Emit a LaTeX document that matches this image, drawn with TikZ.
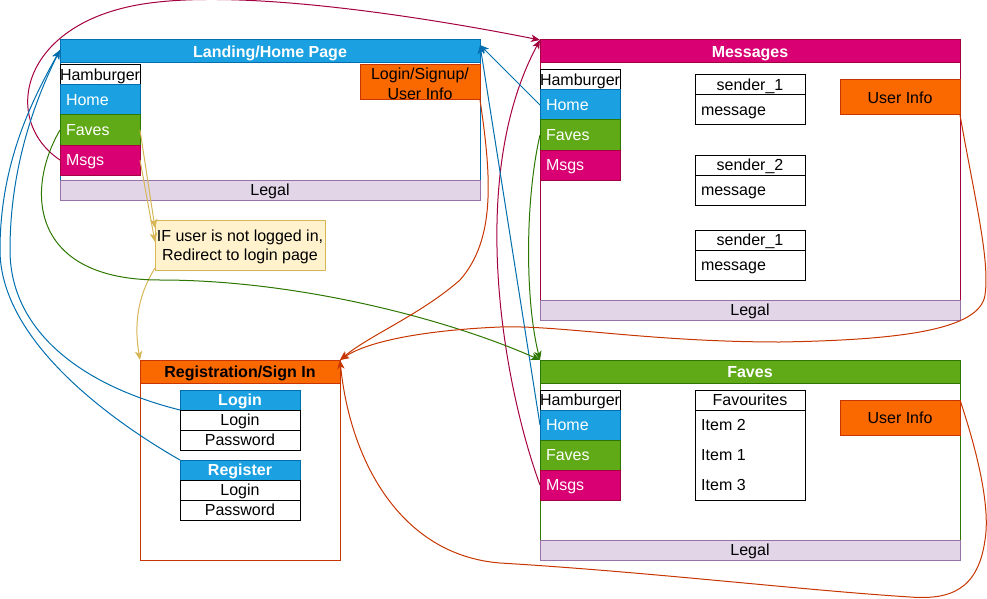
\documentclass[tikz,border=0pt]{standalone}
\usepackage{fontspec}
\setmainfont{Liberation Sans}
\usetikzlibrary{arrows.meta}
\definecolor{blueF}{HTML}{1BA1E2}
\definecolor{blueS}{HTML}{006EAF}
\definecolor{magF}{HTML}{D80073}
\definecolor{magS}{HTML}{A50040}
\definecolor{greenF}{HTML}{60A917}
\definecolor{greenS}{HTML}{2D7600}
\definecolor{orangeF}{HTML}{FA6800}
\definecolor{orangeS}{HTML}{C73500}
\definecolor{legalF}{HTML}{E1D5E7}
\definecolor{legalS}{HTML}{9673A6}
\definecolor{noteF}{HTML}{FFF2CC}
\definecolor{noteS}{HTML}{D6B656}
\tikzset{
  base/.style={draw, line width=1pt, inner sep=0pt, outer sep=0pt, anchor=north west},
  oneline/.style={text height=11.5pt, text depth=0pt},
  sz/.style 2 args={minimum width=#1pt, minimum height=#2pt},
  pagebox/.style={base, fill=white},
  titlebar/.style={base, oneline, text=white, font=\fontsize{16}{19}\selectfont\bfseries},
  nav/.style={base, oneline, minimum height=30pt, text width=68pt, inner xsep=6pt, align=left, text=white},
  hamb/.style={base, oneline, sz={80}{20}, fill=white, draw=black},
  legalbar/.style={base, oneline, sz={420}{20}, fill=legalF, draw=legalS},
  infobox/.style={base, fill=orangeF, draw=orangeS, align=center},
  hdr/.style={base, oneline, sz={110}{20}, fill=white, draw=black},
  row/.style={base, oneline, minimum height=30pt, text width=98pt, inner xsep=6pt, align=left, fill=white, draw=black},
  frow/.style={base, oneline, sz={120}{20}, fill=white, draw=black},
  fhdr/.style={base, oneline, sz={120}{20}, fill=blueF, draw=blueS, text=white, font=\fontsize{16}{19}\selectfont\bfseries},
  conn/.style={line width=1pt, -{Stealth[length=9pt, width=7.5pt, inset=2.5pt]}},
}
\begin{document}
\begin{tikzpicture}[x=1pt, y=-1pt, font=\fontsize{16}{19}\selectfont]
\useasboundingbox (0,0) rectangle (987,599);

% ---------------- Landing / Home page
\node[pagebox, draw=blueS, sz={420}{160}] (land) at (60,40) {};
\node[titlebar, fill=blueF, draw=blueS, sz={420}{23}] (landt) at (60,40) {Landing/Home Page};
\node[hamb] (lham) at (60,65) {Hamburger};
\node[nav, fill=blueF, draw=blueS] (lhome) at (60,85) {Home};
\node[nav, fill=greenF, draw=greenS] (lfav) at (60,115) {Faves};
\node[nav, fill=magF, draw=magS] (lmsg) at (60,145) {Msgs};
\node[infobox, sz={120}{35}] (llog) at (360,65) {};
\node[align=center, inner sep=0pt, font=\fontsize{16}{19.5}\selectfont] (llogtxt) at ([yshift=-1.5pt]llog.center) {Login/Signup/\\User Info};
\node[legalbar] (lleg) at (60,180) {Legal};

% ---------------- Messages page
\node[pagebox, draw=magS, sz={420}{280}] (msg) at (540,40) {};
\node[titlebar, fill=magF, draw=magS, sz={420}{23}] (msgt) at (540,40) {Messages};
\node[hamb] (mham) at (540,70) {Hamburger};
\node[nav, fill=blueF, draw=blueS] (mhome) at (540,90) {Home};
\node[nav, fill=greenF, draw=greenS] (mfav) at (540,120) {Faves};
\node[nav, fill=magF, draw=magS] (mmsg) at (540,150) {Msgs};
\node[hdr] (s1h) at (695,75) {sender\_1};
\node[row] (s1b) at (695,95) {message};
\node[hdr] (s2h) at (695,155) {sender\_2};
\node[row] (s2b) at (695,175) {message};
\node[hdr] (s3h) at (695,230) {sender\_1};
\node[row] (s3b) at (695,250) {message};
\node[infobox, oneline, sz={120}{35}] (muser) at (840,80) {User Info};
\node[legalbar] (mleg) at (540,300) {Legal};

% ---------------- Faves page
\node[pagebox, draw=greenS, sz={420}{200}] (fpage) at (540,360) {};
\node[titlebar, fill=greenF, draw=greenS, sz={420}{23}] (fpaget) at (540,360) {Faves};
\node[hamb] (fham) at (540,390) {Hamburger};
\node[nav, fill=blueF, draw=blueS] (fhome) at (540,410) {Home};
\node[nav, fill=greenF, draw=greenS] (ffav) at (540,440) {Faves};
\node[nav, fill=magF, draw=magS] (fmsg) at (540,470) {Msgs};
\node[hdr] (favh) at (695,390) {Favourites};
\node[base, sz={110}{90}, fill=white, draw=black] (favb) at (695,410) {};
\node[anchor=west, inner sep=0pt, oneline] (it2) at (701,425) {Item 2};
\node[anchor=west, inner sep=0pt, oneline] (it1) at (701,455) {Item 1};
\node[anchor=west, inner sep=0pt, oneline] (it3) at (701,485) {Item 3};
\node[infobox, oneline, sz={120}{35}] (fuser) at (840,400) {User Info};
\node[legalbar] (fleg) at (540,540) {Legal};

% ---------------- Registration / Sign In
\node[pagebox, draw=orangeS, sz={200}{200}] (reg) at (140,360) {};
\node[titlebar, fill=orangeF, draw=orangeS, sz={200}{23}, text=black] (regt) at (140,360) {Registration/Sign In};
\node[fhdr] (loginh) at (180,390) {Login};
\node[frow] (loginl) at (180,410) {Login};
\node[frow] (loginp) at (180,430) {Password};
\node[fhdr] (regh) at (180,460) {Register};
\node[frow] (regl) at (180,480) {Login};
\node[frow] (regp) at (180,500) {Password};

% ---------------- Note
\node[base, sz={170}{50}, fill=noteF, draw=noteS] (note) at (155,220) {};
\node[align=center, inner sep=0pt] (notetxt) at ([yshift=-2pt]note.center) {IF user is not logged in,\\Redirect to login page};

% ---------------- Connectors
% yellow
\draw[conn, noteS] (lfav.east) -- ([yshift=-8pt]note.north west);
\draw[conn, noteS] (lmsg.east) -- ([yshift=-22pt]note.north west);
\draw[conn, noteS] ([yshift=2pt]note.south west) .. controls (135,300) and (135,330) .. (reg.north west);

% magenta
\draw[conn, magS] (lmsg.west) .. controls (0,120) and (20,20) .. (150,3)
  .. controls (254,-11) and (440,20) .. (msg.north west);
\draw[conn, magS] (fmsg.west) .. controls (505,390) and (465,180) .. (msg.north west);

% blue
\draw[conn, blueS] (mhome.west) -- ([yshift=-5pt]land.north east);
\draw[conn, blueS] (fhome.west) -- ([yshift=-5pt]land.north east);
\draw[conn, blueS] (loginh.south west) .. controls (80,385) and (10,330) .. (10,250)
  .. controls (10,160) and (40,90) .. ([yshift=-10pt]land.north west);
\draw[conn, blueS] (regh.north west) .. controls (110,420) and (0,340) .. (0,250)
  .. controls (0,160) and (35,95) .. ([yshift=-10pt]land.north west);

% green
\draw[conn, greenS] (lfav.west) .. controls (25,190) and (30,280) .. (160,280)
  .. controls (300,280) and (450,320) .. (fpage.north west);
\draw[conn, greenS] (mfav.west) .. controls (525,200) and (525,300) .. (fpage.north west);

% orange
\draw[conn, orangeS] (llog.south east) .. controls (492,180) and (495,240) .. (460,280)
  .. controls (420,315) and (370,335) .. (reg.north east);
\draw[conn, orangeS] (muser.south east) .. controls (975,200) and (990,260) .. (985,295)
  .. controls (980,330) and (900,340) .. (780,342)
  .. controls (650,342) and (560,325) .. (500,327)
  .. controls (430,330) and (370,340) .. (reg.north east);
\draw[conn, orangeS] (fuser.north east) .. controls (980,460) and (990,510) .. (985,540)
  .. controls (978,590) and (950,600) .. (910,597)
  .. controls (800,590) and (650,572) .. (500,563)
  .. controls (400,555) and (350,460) .. (reg.north east);
\end{tikzpicture}
\end{document}
